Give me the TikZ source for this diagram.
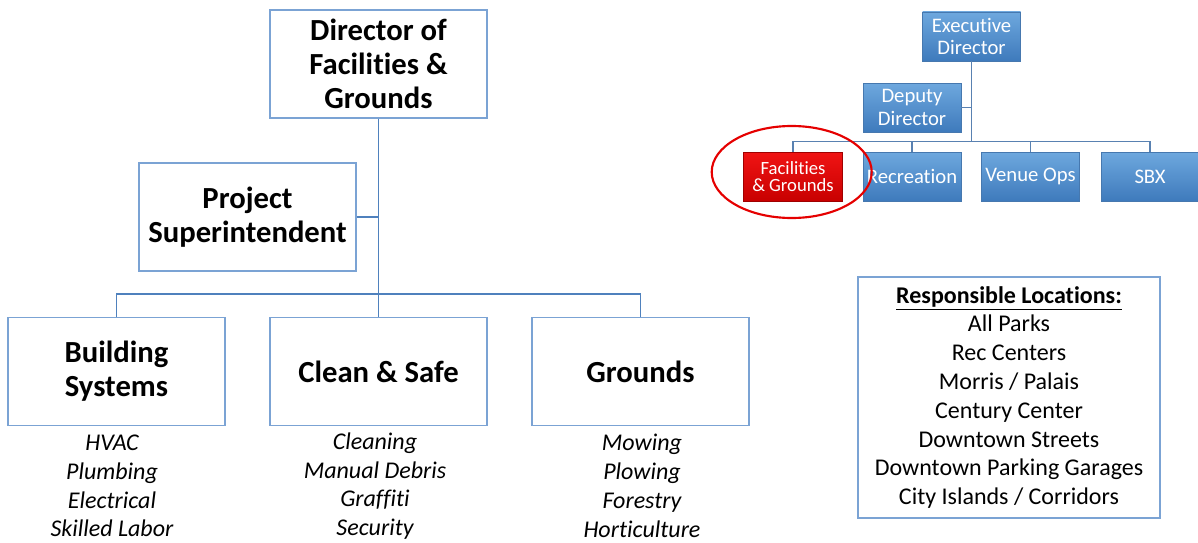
\documentclass[tikz,border=0pt]{standalone}
\usepackage{fontspec}
\setmainfont{Carlito}[Ligatures=NoCommon]
\usetikzlibrary{shapes.geometric}
\definecolor{boxline}{RGB}{123,163,212}
\definecolor{connline}{RGB}{79,129,189}
\definecolor{bluetop}{RGB}{110,168,222}
\definecolor{bluebot}{RGB}{62,122,188}
\definecolor{blueedge}{RGB}{70,120,175}
\definecolor{redtop}{RGB}{240,20,20}
\definecolor{redbot}{RGB}{200,0,0}
\tikzset{
  bigbox/.style={draw=boxline, line width=0.9pt, fill=white, minimum width=162.75pt, minimum height=81pt, inner sep=0pt, align=center, font=\bfseries\fontsize{23}{25.5}\selectfont},
  duties/.style={align=center, inner sep=0pt, font=\itshape\fontsize{18}{21.6}\selectfont},
  conn/.style={draw=connline, line width=1pt},
  sconn/.style={draw=connline!80!gray, line width=1.3pt},
  bluebox/.style={draw=blueedge, line width=0.6pt, top color=bluetop, bottom color=bluebot, minimum width=73.5pt, minimum height=36.75pt, inner sep=0pt, align=center, text=white, font=\fontsize{15.5}{17}\selectfont},
  redbox/.style={draw=redbot!80!black, line width=0.6pt, top color=redtop, bottom color=redbot, minimum width=74pt, minimum height=36.75pt, inner sep=0pt, align=center, text=white, font=\fontsize{14}{13}\selectfont},
  locbox/.style={draw=boxline, line width=0.9pt, minimum width=226.5pt, minimum height=180.75pt, inner sep=0pt, align=center, font=\fontsize{18}{21.6}\selectfont}
}
\begin{document}
\begin{tikzpicture}[x=0.75pt, y=-0.75pt]
\useasboundingbox (0,0) rectangle (1198,542);
% left chart
\node[bigbox] (dir) at (378.5,64) {Director of\\Facilities \&\\Grounds};
\node[bigbox] (ps) at (247.5,217) {Project\\Superintendent};
\node[bigbox] (bs) at (116.5,371.5) {Building\\Systems};
\node[bigbox] (cs) at (378.5,371.5) {Clean \& Safe};
\node[bigbox] (gr) at (640.5,371.5) {Grounds};
\draw[conn] (dir.south) -- (cs.north);
\draw[conn] (ps.east) -- (ps.east -| dir.south);
\draw[conn] (bs.north) -- ++(0,-23) -| (gr.north);
\node[duties] (bsl) at (112,486) {HVAC\\Plumbing\\Electrical\\Skilled Labor};
\node[duties] (csl) at (375,486) {Cleaning\\Manual Debris\\Graffiti\\Security};
\node[duties] (grl) at (642,486) {Mowing\\Plowing\\Forestry\\Horticulture};
% right chart
\node[bluebox] (ed) at (971.5,36.5) {Executive\\Director};
\node[bluebox] (dd) at (912,107.5) {Deputy\\Director};
\node[redbox] (fg) at (793,176.5) {Facilities\\\& Grounds};
\node[bluebox] (rc) at (912,176.5) {Recreation};
\node[bluebox] (vo) at (1030.5,176.5) {Venue Ops};
\node[bluebox] (sb) at (1150,176.5) {SBX};
\draw[sconn] (ed.south) -- ++(0,81) coordinate (bj);
\draw[sconn] (dd.east) -- (dd.east -| ed.south);
\draw[sconn] (fg.north) -- ++(0,-10) -| (sb.north);
\draw[sconn] (rc.north) -- ++(0,-10);
\draw[sconn] (vo.north) -- ++(0,-10);
\draw[red!90!black, line width=1.6pt] (791.7,172) ellipse [x radius=60pt, y radius=34.5pt];
% locations
\node[locbox] (loc) at (1009,397.5) {\textbf{\underline{Responsible Locations:}}\\All Parks\\Rec Centers\\Morris / Palais\\Century Center\\Downtown Streets\\Downtown Parking Garages\\City Islands / Corridors};
\end{tikzpicture}
\end{document}
